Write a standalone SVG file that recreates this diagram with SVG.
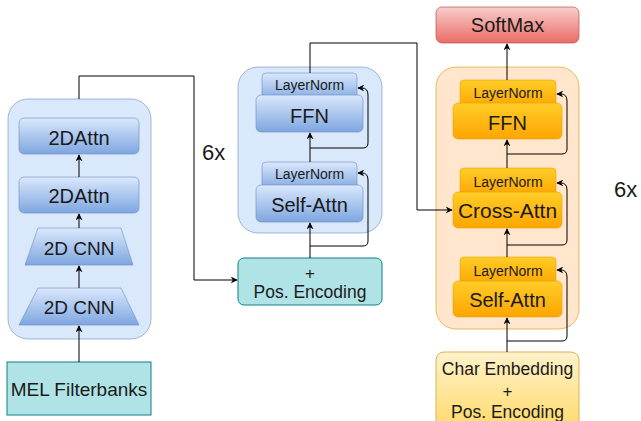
<svg xmlns="http://www.w3.org/2000/svg" width="641" height="421" viewBox="0 0 641 421">
  <defs>
    <linearGradient id="gBlue" x1="0" y1="0" x2="0" y2="1">
      <stop offset="0" stop-color="#dae8fc"/>
      <stop offset="1" stop-color="#7ea6e0"/>
    </linearGradient>
    <linearGradient id="gOrange" x1="0" y1="0" x2="0" y2="1">
      <stop offset="0" stop-color="#ffcd28"/>
      <stop offset="1" stop-color="#ffa500"/>
    </linearGradient>
    <linearGradient id="gRed" x1="0" y1="0" x2="0" y2="1">
      <stop offset="0" stop-color="#f8cecc"/>
      <stop offset="1" stop-color="#ea6b66"/>
    </linearGradient>
    <linearGradient id="gYellow" x1="0" y1="0" x2="0" y2="1">
      <stop offset="0" stop-color="#fff2cc"/>
      <stop offset="1" stop-color="#ffd966"/>
    </linearGradient>
    <marker id="arrow" viewBox="0 0 10 10" refX="9" refY="5" markerWidth="7" markerHeight="7" markerUnits="userSpaceOnUse" orient="auto">
      <path d="M0,0 L10,5 L0,10 L3,5 Z" fill="#000"/>
    </marker>
  </defs>
  <style>
    text { font-family: "Liberation Sans", Arial, sans-serif; fill: #1a1a1a; text-anchor: middle; }
    .cont-blue { fill: #dae8fc; stroke: #6c8ebf; stroke-width: 1; stroke-opacity: 0.6; }
    .cont-peach { fill: #ffe6cc; stroke: #d79b00; stroke-width: 1; stroke-opacity: 0.6; }
    .blue { fill: url(#gBlue); stroke: #6c8ebf; stroke-width: 1; stroke-opacity: 0.6; }
    .orange { fill: url(#gOrange); stroke: #d79b00; stroke-width: 1; stroke-opacity: 0.5; }
    .red { fill: url(#gRed); stroke: #b85450; stroke-width: 1; stroke-opacity: 0.7; }
    .yellow { fill: url(#gYellow); stroke: #d6b656; stroke-width: 1; }
    .teal { fill: #b0e3e6; stroke: #0e8088; stroke-width: 1; }
    .edge { fill: none; stroke: #000; stroke-width: 1; marker-end: url(#arrow); }
    .big { font-size: 20px; }
    .ln { font-size: 14px; }
    .mid { font-size: 17.5px; }
    .plus { font-size: 17px; }
  </style>

  <!-- Encoder front end -->
  <g id="cnn-block">
    <rect class="cont-blue" x="8" y="99" width="143" height="240" rx="20"/>
  </g>
  <g id="attn2d-top">
    <rect class="blue" x="19" y="118" width="120" height="36" rx="5"/>
    <text class="big" x="79" y="145">2DAttn</text>
  </g>
  <g id="attn2d-bottom">
    <rect class="blue" x="19" y="177" width="120" height="36" rx="5"/>
    <text class="big" x="79" y="203">2DAttn</text>
  </g>
  <g id="cnn-top">
    <polygon class="blue" points="38,228 121,228 133,265 25,265"/>
    <text style="font-size:19px" x="79" y="255">2D CNN</text>
  </g>
  <g id="cnn-bottom">
    <polygon class="blue" points="38,288 121,288 139,325 19,325"/>
    <text style="font-size:19px" x="79" y="314">2D CNN</text>
  </g>
  <g id="mel">
    <rect class="teal" x="7" y="362" width="144" height="53"/>
    <text style="font-size:19px" x="79" y="396">MEL Filterbanks</text>
  </g>

  <!-- Encoder layer -->
  <g id="encoder-block">
    <rect class="cont-blue" x="238" y="67" width="144" height="166" rx="20"/>
  </g>
  <g id="enc-ln-ffn">
    <rect class="blue" x="262" y="73" width="95" height="28" rx="4"/>
    <text class="ln" x="309.5" y="90">LayerNorm</text>
  </g>
  <g id="enc-ffn">
    <rect class="blue" x="256" y="95" width="107" height="37" rx="5"/>
    <text class="big" x="309.5" y="123">FFN</text>
  </g>
  <g id="enc-ln-attn">
    <rect class="blue" x="262" y="162" width="95" height="28" rx="4"/>
    <text class="ln" x="309.5" y="179">LayerNorm</text>
  </g>
  <g id="enc-self-attn">
    <rect class="blue" x="256" y="185" width="107" height="37" rx="5"/>
    <text class="big" x="309.5" y="212">Self-Attn</text>
  </g>
  <g id="enc-pos">
    <rect class="teal" x="238" y="258" width="144" height="47" rx="6"/>
    <text class="plus" x="310" y="279">+</text>
    <text class="mid" x="310" y="298">Pos. Encoding</text>
  </g>
  <g id="enc-repeat">
    <text style="font-size:22px; text-anchor:start" x="202" y="160">6x</text>
  </g>

  <!-- Decoder layer -->
  <g id="softmax">
    <rect class="red" x="436" y="7" width="143" height="36" rx="6"/>
    <text class="big" x="507.5" y="32">SoftMax</text>
  </g>
  <g id="decoder-block">
    <rect class="cont-peach" x="436" y="67" width="143" height="262" rx="20"/>
  </g>
  <g id="dec-ln-ffn">
    <rect class="orange" x="460" y="80" width="96" height="28" rx="4"/>
    <text class="ln" x="508" y="98">LayerNorm</text>
  </g>
  <g id="dec-ffn">
    <rect class="orange" x="453" y="103" width="109" height="36" rx="5"/>
    <text class="big" x="507.5" y="130">FFN</text>
  </g>
  <g id="dec-ln-cross">
    <rect class="orange" x="460" y="168" width="96" height="28" rx="4"/>
    <text class="ln" x="508" y="187">LayerNorm</text>
  </g>
  <g id="dec-cross-attn">
    <rect class="orange" x="453" y="192" width="109" height="36" rx="5"/>
    <text style="font-size:21px" x="507.5" y="218">Cross-Attn</text>
  </g>
  <g id="dec-ln-self">
    <rect class="orange" x="460" y="257" width="96" height="28" rx="4"/>
    <text class="ln" x="508" y="276">LayerNorm</text>
  </g>
  <g id="dec-self-attn">
    <rect class="orange" x="453" y="281" width="109" height="36" rx="5"/>
    <text class="big" x="507.5" y="307">Self-Attn</text>
  </g>
  <g id="char-embedding">
    <rect class="yellow" x="436" y="352" width="143" height="80" rx="8"/>
    <text class="mid" x="507.5" y="375">Char Embedding</text>
    <text class="plus" x="507.5" y="397">+</text>
    <text class="mid" x="507.5" y="418">Pos. Encoding</text>
  </g>
  <g id="dec-repeat">
    <text style="font-size:22px; text-anchor:start" x="614" y="197">6x</text>
  </g>

  <!-- Connectors -->
  <g id="connectors">
    <!-- front end -->
    <path class="edge" d="M79,362 V326"/>
    <path class="edge" d="M79,288 V266"/>
    <path class="edge" d="M79,228 V214"/>
    <path class="edge" d="M79,177 V155"/>
    <path class="edge" d="M79,99 V76 H194 V280 H237"/>

    <!-- encoder -->
    <path class="edge" d="M310,258 V223"/>
    <path class="edge" d="M310,246 H363 Q368,246 368,241 V180 Q368,173 362,173 H358"/>
    <path class="edge" d="M310,162 V133"/>
    <path class="edge" d="M310,148 H363 Q368,148 368,143 V95 Q368,88 362,88 H358"/>
    <path class="edge" d="M310,73 V43 H417 V210 H452"/>

    <!-- decoder -->
    <path class="edge" d="M507,352 V318"/>
    <path class="edge" d="M507,341 H562 Q567,341 567,336 V277 Q567,270 561,270 H557"/>
    <path class="edge" d="M507,257 V229"/>
    <path class="edge" d="M507,245 H562 Q567,245 567,240 V190 Q567,183 561,183 H557"/>
    <path class="edge" d="M507,168 V140"/>
    <path class="edge" d="M507,154 H562 Q567,154 567,149 V101 Q567,94 561,94 H557"/>
    <path class="edge" d="M507,80 V44"/>
  </g>
</svg>
